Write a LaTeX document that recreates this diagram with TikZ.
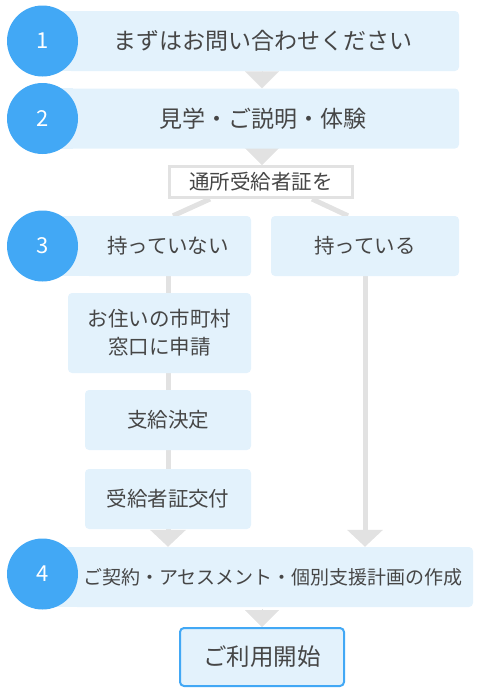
\documentclass[tikz,border=0pt]{standalone}
\usepackage{fontspec}
\setmainfont{Noto Sans CJK JP}
\usetikzlibrary{arrows.meta, positioning, calc, backgrounds}
\definecolor{numblue}{RGB}{66,168,245}
\definecolor{stepfill}{RGB}{227,242,252}
\definecolor{flowgray}{RGB}{226,226,226}
\definecolor{txtgray}{RGB}{70,70,70}

\begin{document}
\begin{tikzpicture}[
  x=1pt, y=-1pt,
  every node/.style={text=txtgray, inner sep=0pt},
  stepbox/.style={fill=stepfill, rounded corners=4pt, minimum height=60pt, align=center, font=\fontsize{20.5}{28}\selectfont},
  bigtext/.style={font=\fontsize{23}{28}\selectfont},
  numdot/.style={circle, fill=numblue, minimum size=71pt, text=white, font=\fontsize{22}{24}\selectfont},
  card/.style={draw=flowgray, line width=3pt, fill=white, minimum width=183pt, minimum height=31pt, font=\fontsize{20.5}{24}\selectfont},
  startbox/.style={draw=numblue, line width=2pt, fill=stepfill, rounded corners=4pt, minimum width=164pt, minimum height=58pt, font=\fontsize{23.5}{28}\selectfont},
  flow/.style={draw=flowgray, line width=5pt},
  tri/.style={-{Triangle[length=17pt, width=34pt]}, draw=flowgray, line width=0.1pt}
]
  \useasboundingbox (0,0) rectangle (482,694);

  % steps
  \node[stepbox, bigtext, minimum width=392pt] (s1) at (263,41) {まずはお問い合わせください};
  \node[stepbox, bigtext, minimum width=392pt] (s2) at (263,118.5) {見学・ご説明・体験};
  \node[card] (card) at (261,182) {通所受給者証を};
  \node[stepbox, minimum width=166pt] (no) at (168,246) {持っていない};
  \node[stepbox, minimum width=188pt] (yes) at (365,246) {持っている};
  \node[stepbox, minimum width=183pt, minimum height=80pt] (city) at (159.5,333) {お住いの市町村\\窓口に申請};
  \node[stepbox, minimum width=166pt] (decide) at (168,420) {支給決定};
  \node[stepbox, minimum width=166pt] (issue) at (168,499) {受給者証交付};
  \node[stepbox, minimum width=400pt, font=\fontsize{19}{24}\selectfont] (s4) at (273,577) {ご契約・アセスメント・個別支援計画の作成};
  \node[startbox] (start) at (262,657) {ご利用開始};

  % numbers
  \node[numdot] (n1) at (42.5,41) {1};
  \node[numdot] (n2) at (42.5,118.5) {2};
  \node[numdot] (n3) at (42.5,246) {3};
  \node[numdot] (n4) at (42.5,574) {4};

  \begin{scope}[on background layer]
    \fill[stepfill] (n1.center |- s1.north) rectangle ([xshift=6pt]s1.south west);
    \fill[stepfill] (n2.center |- s2.north) rectangle ([xshift=6pt]s2.south west);
    \fill[stepfill] (n3.center |- no.north) rectangle ([xshift=6pt]no.south west);
    \fill[stepfill] (n4.center |- s4.north) rectangle ([xshift=6pt]s4.south west);

    \draw[tri] ([yshift=17pt]262,0 |- s2.north) -- (262,0 |- s2.north);
    \draw[tri] ([yshift=17pt]262,0 |- card.north) -- (262,0 |- card.north);
    \draw[flow] ([xshift=-51pt]card.south) -- ([xshift=5pt]no.north);
    \draw[flow] ([xshift=51pt]card.south) -- ([xshift=-17pt]yes.north);
    \draw[flow, -{Triangle[length=17pt, width=35pt]}] (no.south) -- (no.south |- s4.north);
    \draw[flow, -{Triangle[length=17pt, width=35pt]}] (yes.south) -- (yes.south |- s4.north);
    \draw[tri] ([yshift=18pt]start.north) -- (start.north);
  \end{scope}
\end{tikzpicture}
\end{document}
